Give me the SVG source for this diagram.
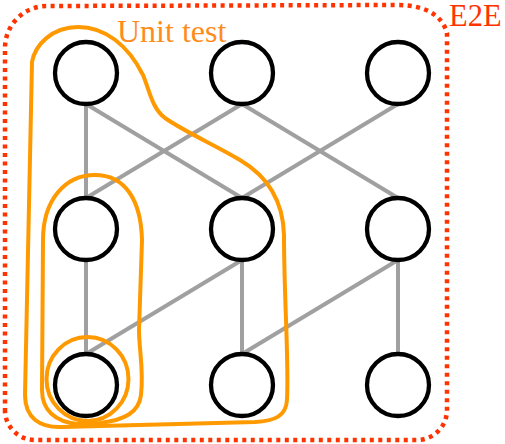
<svg xmlns="http://www.w3.org/2000/svg" width="505" height="444" viewBox="0 0 505 444">
<style>
.node{fill:#fff;stroke:#000;stroke-width:4.3}
.edge{stroke:#a0a0a0;stroke-width:4;fill:none}
.unit{fill:none;stroke:#ff9900;stroke-width:4}
.e2e{fill:none;stroke:#ff3300;stroke-width:4.5;stroke-dasharray:4 4.5}
.lbl{font-family:"Liberation Serif","Times New Roman",serif;font-size:32px}
</style>
<rect width="505" height="444" fill="#fff"/>
<g id="connectors">
<line class="edge" x1="86" y1="104" x2="86" y2="198"/>
<line class="edge" x1="86" y1="104" x2="242" y2="198"/>
<line class="edge" x1="242" y1="104" x2="86" y2="198"/>
<line class="edge" x1="242" y1="104" x2="398" y2="198"/>
<line class="edge" x1="398" y1="104" x2="242" y2="198"/>
<line class="edge" x1="86" y1="260" x2="86" y2="354"/>
<line class="edge" x1="242" y1="260" x2="86" y2="354"/>
<line class="edge" x1="242" y1="260" x2="242" y2="354"/>
<line class="edge" x1="398" y1="260" x2="242" y2="354"/>
<line class="edge" x1="398" y1="260" x2="398" y2="354"/>
</g>
<g id="n11"><circle class="node" cx="86" cy="73" r="31"/></g>
<g id="n12"><circle class="node" cx="242" cy="73" r="31"/></g>
<g id="n13"><circle class="node" cx="398" cy="73" r="31"/></g>
<g id="n21"><circle class="node" cx="86" cy="229" r="31"/></g>
<g id="n22"><circle class="node" cx="242" cy="229" r="31"/></g>
<g id="n23"><circle class="node" cx="398" cy="229" r="31"/></g>
<g id="n31"><circle class="node" cx="86" cy="385" r="31"/></g>
<g id="n32"><circle class="node" cx="242" cy="385" r="31"/></g>
<g id="n33"><circle class="node" cx="398" cy="385" r="31"/></g>
<g id="unit-test">
<path class="unit" d="M 32,62 C 35,45 52,27 78,27 C 105,27 128,45 143,75 C 150,92 152,108 165,118 C 185,132 215,145 240,160 C 262,173 283,195 284,235 C 284,300 289,360 287,400 C 286,416 275,421 255,422 L 62,427 C 40,428 25,418 25,395 Z"/>
<path class="unit" d="M 42,390 L 43,240 C 43,200 65,175 95,175 C 125,175 141,200 142,240 L 139,330 C 139,350 144,370 141,395 C 139,412 125,420 100,423 L 78,424 C 55,422 42,410 42,390 Z"/>
<ellipse class="unit" cx="87.5" cy="379" rx="41" ry="42"/>
<text class="lbl" x="117" y="42" fill="#ff8c1a">Unit test</text>
</g>
<g id="e2e">
<path class="e2e" d="M 5,412 L 5,48 A 42 42 0 0 1 47,6 L 397,5 C 425,5 442,15 447,33 L 447,410 A 30 30 0 0 1 417,440 L 35,440 A 30 30 0 0 1 5,412 Z"/>
<text class="lbl" x="449" y="26" font-size="30" style="font-size:30.5px" fill="#ff3300">E2E</text>
</g>
</svg>
